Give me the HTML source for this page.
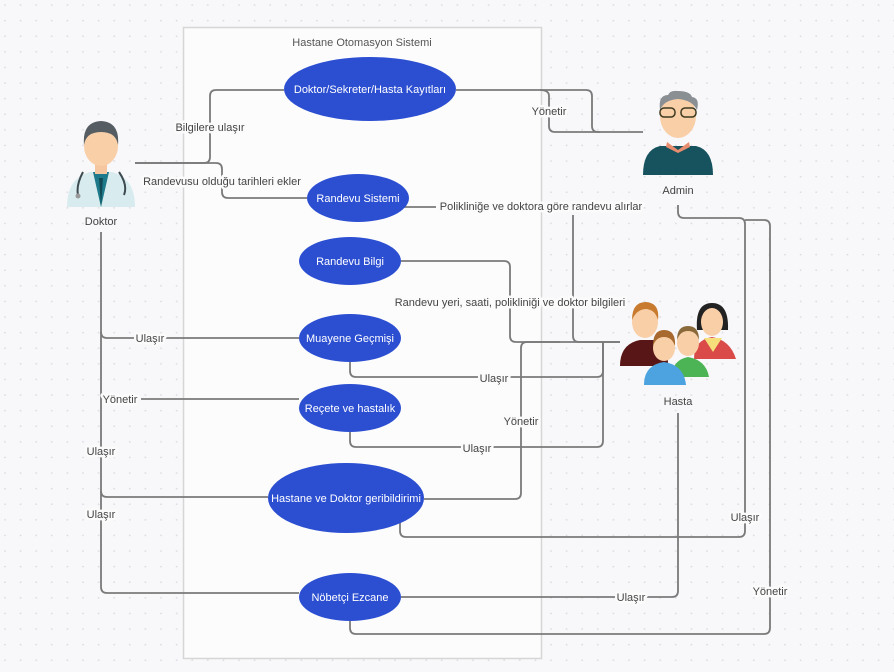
<!DOCTYPE html>
<html><head><meta charset="utf-8"><style>
html,body{margin:0;padding:0;width:894px;height:672px;overflow:hidden;background:#f8f8fa;}
svg{display:block;}
text{font-family:"Liberation Sans","DejaVu Sans",sans-serif;font-size:11px;fill:#444;}
.l{paint-order:stroke;stroke:#fbfbfb;stroke-width:5px;stroke-linejoin:round;}
.e{fill:#fff;font-size:11px;}
.c{fill:none;stroke:#7a7a7a;stroke-width:1.8;stroke-linejoin:round;}
</style></head><body>
<svg width="894" height="672" viewBox="0 0 894 672">
<defs><pattern id="d" width="15.6" height="15.6" patternUnits="userSpaceOnUse"><circle cx="5" cy="5" r="0.9" fill="#dcdce2"/></pattern></defs>
<rect width="894" height="672" fill="#f8f8fa"/>
<rect width="894" height="672" fill="url(#d)"/>
<rect x="183.5" y="27.5" width="358" height="631" fill="#fcfcfc" stroke="#d6d6d6" stroke-width="1.5"/>
<text x="362" y="46" text-anchor="middle" style="fill:#555">Hastane Otomasyon Sistemi</text>

<path class="c" d="M135 163 H204 Q210 163 210 157 V96 Q210 90 216 90 H284"/>
<path class="c" d="M135 163 H216 Q222 163 222 169 V192 Q222 198 228 198 H307"/>
<path class="c" d="M456 90 H586 Q592 90 592 96 V126 Q592 132 598 132 H643"/>
<path class="c" d="M540 90 Q549 90 549 96 V126 Q549 132 555 132 H600"/>
<path class="c" d="M358 175 V201 Q358 207 364 207 H436"/>
<path class="c" d="M573 215 V336 Q573 342 579 342 H620"/>
<path class="c" d="M401 261 H504 Q510 261 510 267 V336 Q510 342 516 342 H620"/>
<path class="c" d="M101 232 V587 Q101 593 107 593 H299"/>
<path class="c" d="M101 332 Q101 338 107 338 H299"/>
<path class="c" d="M141 399 H299"/>
<path class="c" d="M101 491 Q101 497 107 497 H268"/>
<path class="c" d="M350 362 V371 Q350 377 356 377 H597 Q603 377 603 371 V342"/>
<path class="c" d="M350 432 V441 Q350 447 356 447 H597 Q603 447 603 441 V342"/>
<path class="c" d="M424 499 H515 Q521 499 521 493 V348 Q521 342 527 342 H560"/>
<path class="c" d="M400 521 V531 Q400 537 406 537 H739 Q745 537 745 531 V224 Q745 218 739 218 H684 Q678 218 678 212 V205"/>
<path class="c" d="M350 621 V628 Q350 634 356 634 H764 Q770 634 770 628 V226 Q770 220 764 220 H745"/>
<path class="c" d="M401 597 H672 Q678 597 678 591 V413"/>

<text class="l" x="210" y="131" text-anchor="middle">Bilgilere ulaşır</text>
<text class="l" x="222" y="185" text-anchor="middle">Randevusu olduğu tarihleri ekler</text>
<text class="l" x="549" y="115" text-anchor="middle">Yönetir</text>
<text class="l" x="541" y="210" text-anchor="middle">Polikliniğe ve doktora göre randevu alırlar</text>
<text class="l" x="510" y="306" text-anchor="middle">Randevu yeri, saati, polikliniği ve doktor bilgileri</text>
<text class="l" x="150" y="342" text-anchor="middle">Ulaşır</text>
<text class="l" x="120" y="403" text-anchor="middle">Yönetir</text>
<text class="l" x="101" y="455" text-anchor="middle">Ulaşır</text>
<text class="l" x="101" y="518" text-anchor="middle">Ulaşır</text>
<text class="l" x="494" y="382" text-anchor="middle">Ulaşır</text>
<text class="l" x="477" y="452" text-anchor="middle">Ulaşır</text>
<text class="l" x="521" y="425" text-anchor="middle">Yönetir</text>
<text class="l" x="745" y="521" text-anchor="middle">Ulaşır</text>
<text class="l" x="631" y="601" text-anchor="middle">Ulaşır</text>
<text class="l" x="770" y="595" text-anchor="middle">Yönetir</text>

<g fill="#2c4fd2">
<ellipse cx="370" cy="89" rx="86" ry="32"/>
<ellipse cx="358" cy="198" rx="51" ry="24"/>
<ellipse cx="350" cy="261" rx="51" ry="24"/>
<ellipse cx="350" cy="338" rx="51" ry="24"/>
<ellipse cx="350" cy="408" rx="51" ry="24"/>
<ellipse cx="346" cy="498" rx="78" ry="35"/>
<ellipse cx="350" cy="597" rx="51" ry="24"/>
</g>
<text class="e" x="370" y="93" text-anchor="middle">Doktor/Sekreter/Hasta Kayıtları</text>
<text class="e" x="358" y="202" text-anchor="middle">Randevu Sistemi</text>
<text class="e" x="350" y="265" text-anchor="middle">Randevu Bilgi</text>
<text class="e" x="350" y="342" text-anchor="middle">Muayene Geçmişi</text>
<text class="e" x="350" y="412" text-anchor="middle">Reçete ve hastalık</text>
<text class="e" x="346" y="502" text-anchor="middle">Hastane ve Doktor geribildirimi</text>
<text class="e" x="350" y="601" text-anchor="middle">Nöbetçi Ezcane</text>

<g>
<path d="M67 207 Q67 178 90 172 H112 Q135 178 135 207 Z" fill="#d8ecef"/>
<path d="M93 172 L101 207 L109 172 Z" fill="#1e7a8a"/>
<path d="M99 178 L101 207 L103 178 Z" fill="#114a55"/>
<rect x="95" y="160" width="12" height="14" fill="#f5c6a0"/>
<ellipse cx="101" cy="146" rx="17" ry="20" fill="#f9cfa8"/>
<path d="M84 145 Q82 122 101 121 Q120 122 118 145 Q116 132 101 132 Q86 132 84 145Z" fill="#555d63"/>
<path d="M83 172 Q76 185 78 195 M119 172 Q128 185 124 195" stroke="#3d4a50" stroke-width="2" fill="none"/>
<circle cx="78" cy="196" r="2.5" fill="#999"/>
</g>
<text x="101" y="225" text-anchor="middle">Doktor</text>

<g>
<path d="M643 175 Q643 150 660 146 H696 Q713 150 713 175 Z" fill="#17525f"/>
<path d="M667 142 L678 150 L689 142 L690 147 L678 153 L666 147Z" fill="#e88d6e"/>
<ellipse cx="678" cy="116" rx="18" ry="22" fill="#f9cfa8"/>
<path d="M660 110 Q658 95 668 95 Q670 90 678 91 Q690 91 692 97 Q700 98 697 110 Q692 100 678 99 Q664 100 660 110Z" fill="#8a8f94"/>
<rect x="660" y="108" width="15" height="9" rx="4" fill="none" stroke="#3b3a20" stroke-width="1.5"/>
<rect x="681" y="108" width="15" height="9" rx="4" fill="none" stroke="#3b3a20" stroke-width="1.5"/>
</g>
<text x="678" y="194" text-anchor="middle">Admin</text>

<g>
<path d="M620 366 Q620 344 640 340 H660 Q668 344 668 366Z" fill="#581616"/>
<ellipse cx="645" cy="322" rx="13" ry="16" fill="#f9cfa8"/>
<path d="M632 320 Q632 302 646 302 Q660 303 658 320 Q655 309 645 309 Q636 310 632 320Z" fill="#c87a2e"/>
<path d="M694 359 Q694 340 712 337 Q730 340 736 359Z" fill="#d94a48"/>
<path d="M704 338 L713 352 L722 338Z" fill="#f6df7a"/>
<path d="M697 330 Q695 303 712 303 Q729 303 728 330 Z" fill="#222"/>
<ellipse cx="712" cy="322" rx="11" ry="14" fill="#f9cfa8"/>
<path d="M672 377 Q672 360 688 357 Q706 360 709 377Z" fill="#4cb454"/>
<ellipse cx="688" cy="343" rx="11" ry="13" fill="#f9cfa8"/>
<path d="M677 340 Q677 326 688 326 Q699 326 699 340 Q696 331 688 331 Q680 331 677 340Z" fill="#8a6a3a"/>
<path d="M644 385 Q644 365 664 362 Q684 365 686 385Z" fill="#4da3e0"/>
<ellipse cx="664" cy="348" rx="11" ry="13" fill="#f9cfa8"/>
<path d="M653 346 Q653 330 664 330 Q676 330 675 346 Q672 337 664 337 Q656 337 653 346Z" fill="#a8692e"/>
</g>
<text x="678" y="405" text-anchor="middle">Hasta</text>
</svg>
</body></html>
